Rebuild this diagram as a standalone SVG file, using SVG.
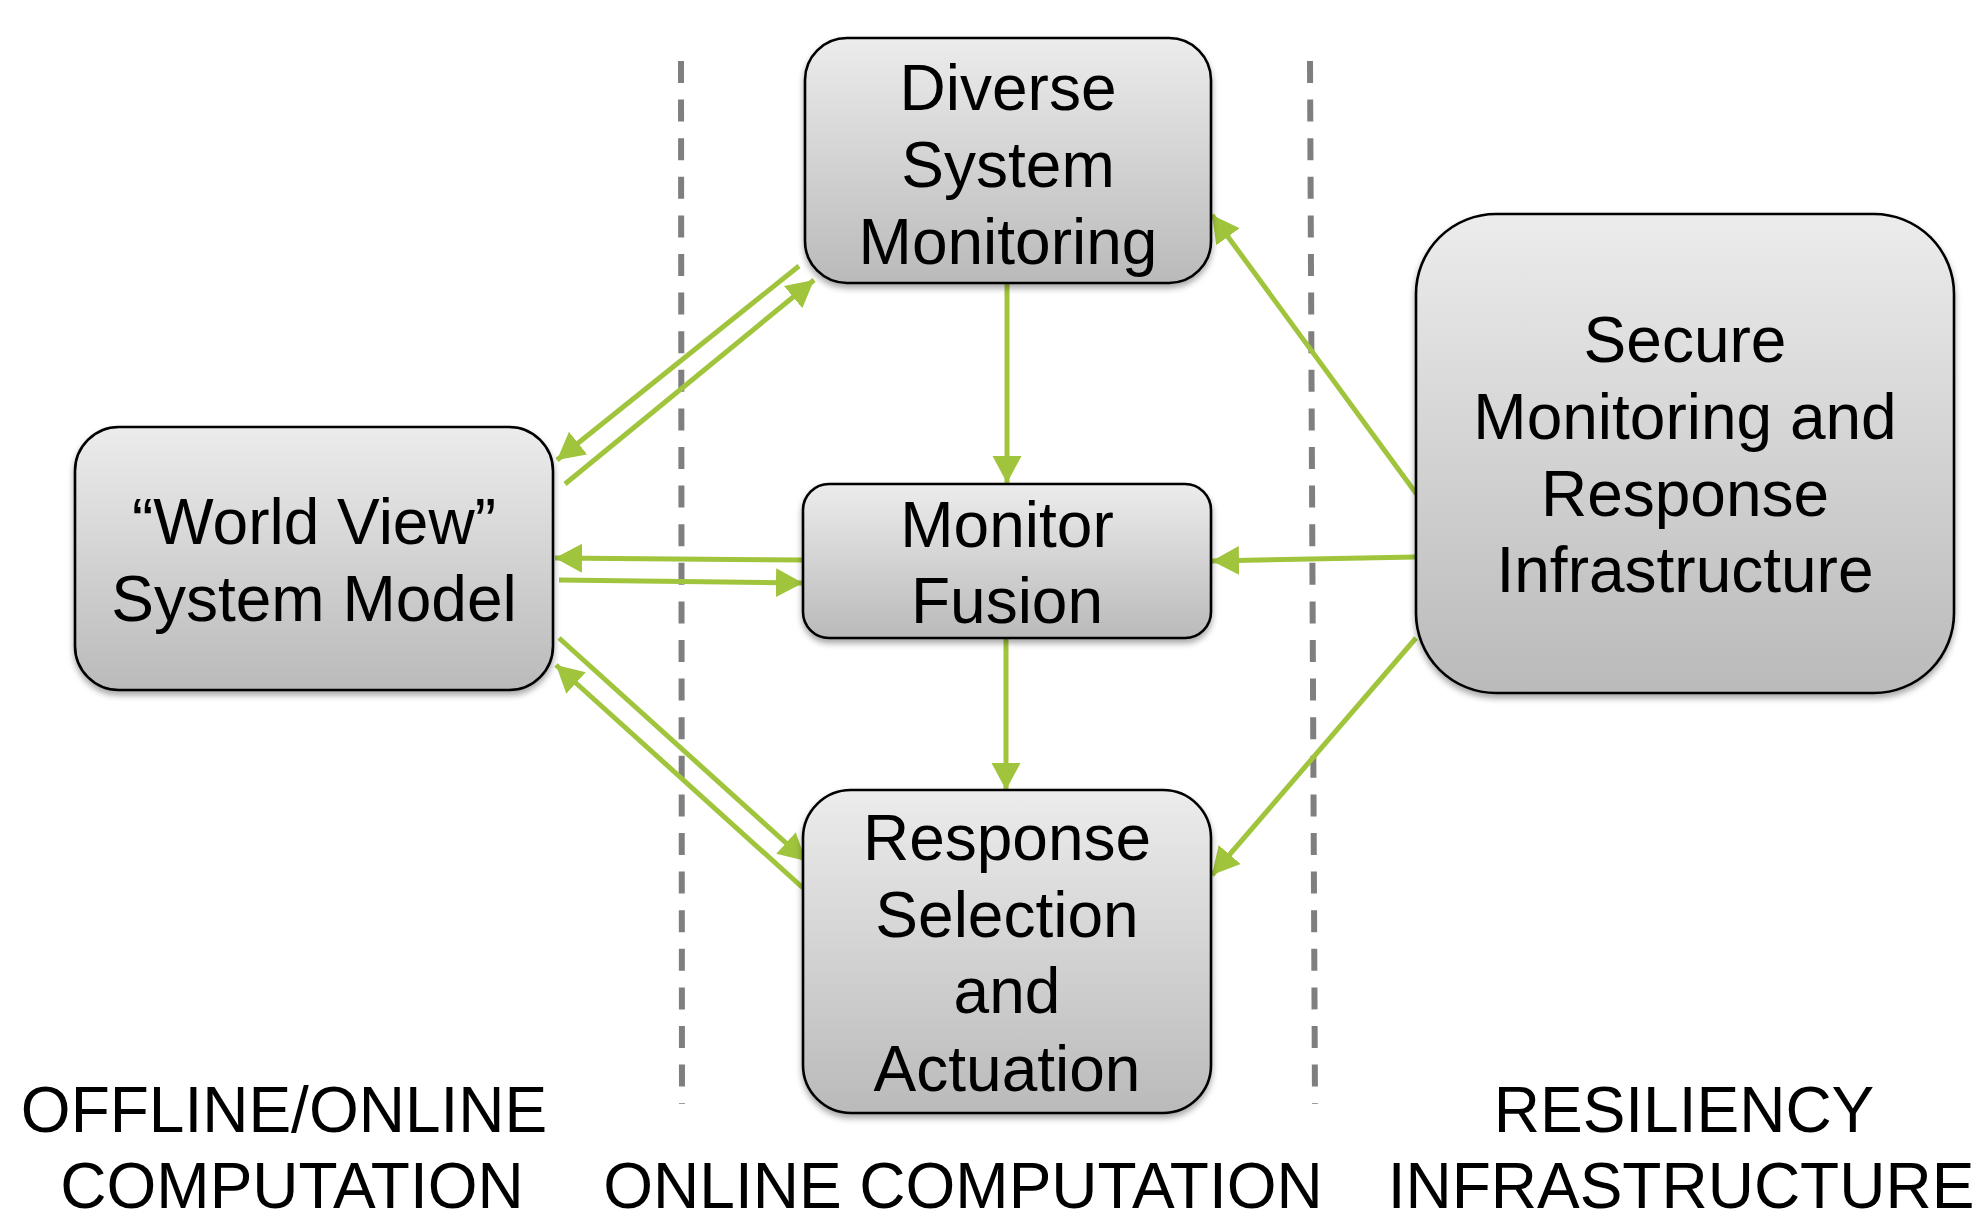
<svg xmlns="http://www.w3.org/2000/svg" width="1982" height="1218" viewBox="0 0 1982 1218">
<style>
.box{fill:url(#g);stroke:#000;stroke-width:2.6;filter:url(#sh)}
.t{font-family:"Liberation Sans",Arial,sans-serif;font-size:64px;fill:#000;text-anchor:middle}
.c{stroke:#a0c43c;stroke-width:5;fill:none;marker-end:url(#ah)}
.d{stroke:#7f7f7f;stroke-width:6;stroke-dasharray:22 16.6;fill:none}
</style>
<defs>
<linearGradient id="g" x1="0" y1="0" x2="0" y2="1">
<stop offset="0" stop-color="#ececec"/>
<stop offset="1" stop-color="#bababa"/>
</linearGradient>
<filter id="sh" x="-10%" y="-10%" width="120%" height="130%">
<feDropShadow dx="0" dy="4" stdDeviation="3" flood-color="#000" flood-opacity="0.35"/>
</filter>
<marker id="ah" markerUnits="userSpaceOnUse" markerWidth="28" markerHeight="30" refX="27" refY="14.5" orient="auto" viewBox="0 0 28 30">
<path d="M0,0 L27,14.5 L0,29 z" fill="#a0c43c"/>
</marker>
</defs>
<rect width="1982" height="1218" fill="#fff"/>
<g id="dividers">
<line class="d" x1="681" y1="61" x2="682" y2="1104"/>
<line class="d" x1="1310" y1="61" x2="1315" y2="1104"/>
</g>
<g id="connectors">
<line class="c" x1="799" y1="266" x2="557" y2="460"/>
<line class="c" x1="565" y1="484" x2="814" y2="280"/>
<line class="c" x1="803" y1="560" x2="555" y2="558"/>
<line class="c" x1="559" y1="580" x2="803" y2="583"/>
<line class="c" x1="559" y1="638" x2="806" y2="861"/>
<line class="c" x1="803" y1="888" x2="556" y2="665"/>
<line class="c" x1="1418" y1="496" x2="1212" y2="215"/>
<line class="c" x1="1416" y1="557" x2="1212" y2="561"/>
<line class="c" x1="1416" y1="638" x2="1212" y2="875"/>
<line class="c" x1="1007" y1="283" x2="1007" y2="483"/>
<line class="c" x1="1006" y1="638" x2="1006" y2="790"/>
</g>
<g id="diverse">
<rect class="box" x="805" y="38" width="406" height="245" rx="42"/>
<text class="t" x="1008" y="110">Diverse</text>
<text class="t" x="1008" y="187">System</text>
<text class="t" x="1008" y="264">Monitoring</text>
</g>
<g id="worldview">
<rect class="box" x="75" y="427" width="478" height="263" rx="44"/>
<text class="t" x="314" y="544">“World View”</text>
<text class="t" x="314" y="621">System Model</text>
</g>
<g id="fusion">
<rect class="box" x="803" y="484" width="408" height="154" rx="26"/>
<text class="t" x="1007" y="547">Monitor</text>
<text class="t" x="1007" y="623">Fusion</text>
</g>
<g id="response">
<rect class="box" x="803" y="790" width="408" height="323" rx="48"/>
<text class="t" x="1007" y="860">Response</text>
<text class="t" x="1007" y="937">Selection</text>
<text class="t" x="1007" y="1013">and</text>
<text class="t" x="1007" y="1091">Actuation</text>
</g>
<g id="secure">
<rect class="box" x="1416" y="214" width="538" height="479" rx="80"/>
<text class="t" x="1685" y="362">Secure</text>
<text class="t" x="1685" y="439">Monitoring and</text>
<text class="t" x="1685" y="516">Response</text>
<text class="t" x="1685" y="592">Infrastructure</text>
</g>
<g id="labels">
<text class="t" x="284" y="1132">OFFLINE/ONLINE</text>
<text class="t" x="292" y="1208">COMPUTATION</text>
<text class="t" x="963" y="1208">ONLINE COMPUTATION</text>
<text class="t" x="1684" y="1132">RESILIENCY</text>
<text class="t" x="1681" y="1208">INFRASTRUCTURE</text>
</g>
</svg>
